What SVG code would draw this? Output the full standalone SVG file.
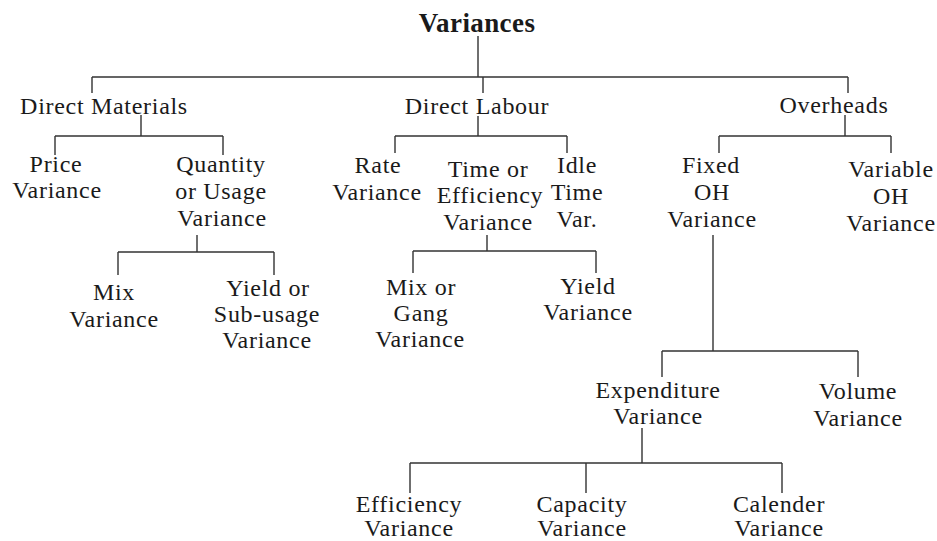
<svg xmlns="http://www.w3.org/2000/svg" width="937" height="541" viewBox="0 0 937 541">
<style>
  text { font-family: "Liberation Serif", "Times New Roman", serif; font-size: 24px; fill: #1a1a1a; text-anchor: middle; letter-spacing: 0.7px; }
  .title { font-size: 27px; font-weight: bold; letter-spacing: 0.4px; }
  #connectors path { fill: none; stroke: #333; stroke-width: 1.4; }
</style>
<rect width="937" height="541" fill="#fff"/>
<g id="connectors">
  <path d="M478 36V77M92 77H848M92 77V93M483 77V93M848 77V93"/>
  <path d="M141 115V136M55 136H223M55 136V155M223 136V155"/>
  <path d="M478 116V136M395 136H567M395 136V153M567 136V153"/>
  <path d="M845 115V136M719 136H891M719 136V153M891 136V153"/>
  <path d="M197 235V252M118 252H274M118 252V275M274 252V275"/>
  <path d="M487 235V251M413 251H596M413 251V273M596 251V273"/>
  <path d="M713 235V351M662 351H858M662 351V377M858 351V377"/>
  <path d="M642 428V463M410 463H782M410 463V493M586 463V493M782 463V493"/>
</g>
<g id="variances"><text class="title" x="477" y="32">Variances</text></g>
<g id="direct-materials"><text x="104" y="114">Direct Materials</text></g>
<g id="direct-labour"><text x="477" y="114">Direct Labour</text></g>
<g id="overheads"><text x="834" y="113">Overheads</text></g>
<g id="price-variance"><text x="56" y="172">Price</text><text x="57" y="198">Variance</text></g>
<g id="quantity-variance"><text x="221" y="172">Quantity</text><text x="221" y="199">or Usage</text><text x="222" y="226">Variance</text></g>
<g id="rate-variance"><text x="378" y="173">Rate</text><text x="377" y="200">Variance</text></g>
<g id="time-variance"><text x="488" y="177">Time or</text><text x="490" y="203">Efficiency</text><text x="488" y="230">Variance</text></g>
<g id="idle-time"><text x="577" y="173">Idle</text><text x="577" y="200">Time</text><text x="577" y="227">Var.</text></g>
<g id="fixed-oh"><text x="711" y="173">Fixed</text><text x="712" y="200">OH</text><text x="712" y="227">Variance</text></g>
<g id="variable-oh"><text x="891" y="177">Variable</text><text x="891" y="204">OH</text><text x="891" y="231">Variance</text></g>
<g id="mix-variance"><text x="114" y="300">Mix</text><text x="114" y="327">Variance</text></g>
<g id="yield-subusage"><text x="268" y="296">Yield or</text><text x="267" y="322">Sub-usage</text><text x="267" y="348">Variance</text></g>
<g id="mix-gang"><text x="421" y="295">Mix or</text><text x="421" y="321">Gang</text><text x="420" y="347">Variance</text></g>
<g id="yield-variance"><text x="588" y="294">Yield</text><text x="588" y="320">Variance</text></g>
<g id="expenditure"><text x="658" y="398">Expenditure</text><text x="658" y="424">Variance</text></g>
<g id="volume"><text x="858" y="399">Volume</text><text x="858" y="426">Variance</text></g>
<g id="efficiency"><text x="409" y="512">Efficiency</text><text x="409" y="536">Variance</text></g>
<g id="capacity"><text x="582" y="512">Capacity</text><text x="582" y="536">Variance</text></g>
<g id="calender"><text x="779" y="512">Calender</text><text x="779" y="536">Variance</text></g>
</svg>
